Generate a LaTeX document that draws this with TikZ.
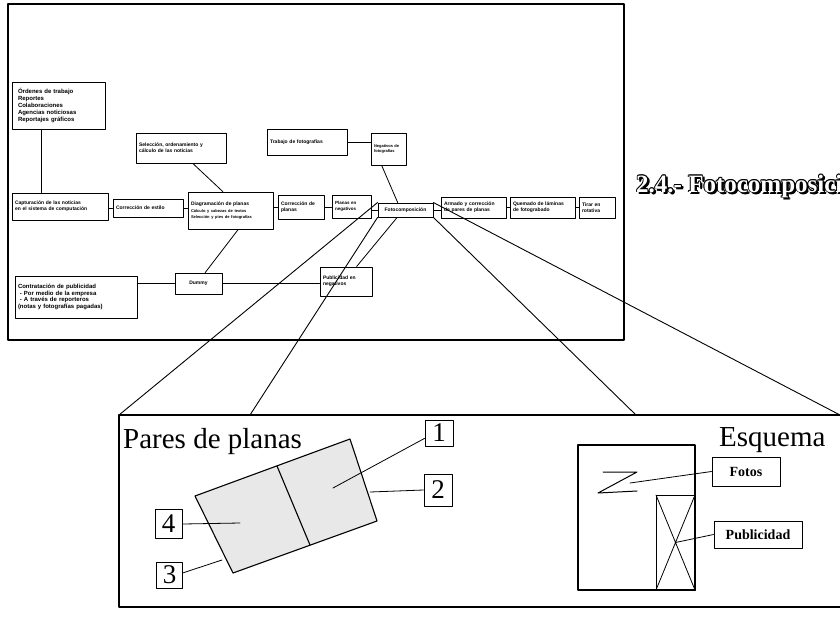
\documentclass[tikz,border=0pt]{standalone}
\usepackage{fontspec}
\setmainfont{Liberation Serif}
\newfontfamily\boxfont{Liberation Sans}
\usetikzlibrary{calc}
\begin{document}
\begin{tikzpicture}[x=1pt,y=-1pt,line cap=round,line join=round,
  bx/.style={draw,line width=0.9pt,inner xsep=3pt,inner ysep=1pt,align=left,
     font=\boxfont\bfseries\fontsize{5}{6}\selectfont},
  ln/.style={line width=0.8pt},
  frm/.style={line width=1.2pt},
  zl/.style={line width=0.9pt},
  numbox/.style={draw,line width=1pt,inner sep=0pt,font=\fontsize{27}{27}\selectfont},
  lab/.style={draw,line width=1pt,inner sep=0pt,font=\bfseries\fontsize{14}{14}\selectfont},
  ttl/.style={anchor=base west,inner sep=0pt,font=\bfseries\fontsize{25}{25}\selectfont}]
\useasboundingbox (0,0) rectangle (840,616);

% ---------- upper frame ----------
\draw[frm] (8,4) rectangle (624,340);

% ---------- boxes ----------
\node[bx,inner xsep=6pt,text width=81,minimum height=47,font=\boxfont\bfseries\fontsize{6}{7}\selectfont] (ord) at (58.5,105.5)
  {Órdenes de trabajo\\Reportes\\Colaboraciones\\Agencias noticiosas\\Reportajes gráficos};
\node[bx,text width=90,minimum height=27] (cap) at (60,206.5)
  {Capturación de las noticias\\en el sistema de computación};
\node[bx,text width=64,minimum height=18] (ces) at (148,208) {Corrección de estilo};
\node[bx,text width=84,minimum height=30] (sel) at (181,148)
  {Selección, ordenamiento y\\cálculo de las noticias};
\node[bx,text width=79,minimum height=37] (dia) at (230.5,210.5)
  {Diagramación de planas\\[2pt]\fontsize{4}{5}\selectfont Cálculo y cabezas de textos\\Selección y pies de fotografías};
\node[bx,text width=40,minimum height=24] (cpl) at (301,207) {Corrección de\\planas};
\node[bx,text width=33,minimum height=23,font=\boxfont\bfseries\fontsize{4.5}{5.5}\selectfont] (pne) at (351.5,206.5) {Planas en\\negativos};
\node[bx,text width=74,minimum height=26] (tra) at (307,142) {Trabajo de fotografías};
\node[bx,text width=29,minimum height=32,font=\boxfont\bfseries\fontsize{4}{5}\selectfont] (neg) at (388.5,149) {Negativos de\\fotografías};
\node[bx,text width=49,minimum height=14,align=center] (fot) at (405.5,210) {Fotocomposición};
\node[bx,text width=59,minimum height=21] (arm) at (473.5,207.5) {Armado y corrección\\de pares de planas};
\node[bx,text width=59,minimum height=21] (que) at (542.5,207.5) {Quemado de láminas\\de fotograbado};
\node[bx,text width=30,minimum height=21] (tir) at (597,207.5) {Tirar en\\rotativa};
\node[bx,text width=116,minimum height=42,font=\boxfont\bfseries\fontsize{6}{6.5}\selectfont] (con) at (76,297)
  {Contratación de publicidad\\\ - Por medio de la empresa\\\ - A través de reporteros\\(notas y fotografías pagadas)};
\node[bx,text width=41,minimum height=21,align=center] (dum) at (198.5,283.5) {Dummy};
\node[bx,text width=46,minimum height=29] (pub) at (346,281.5) {Publicidad en\\negativos};

% ---------- connectors ----------
\draw[ln] ($(ord.south west)!0.32!(ord.south east)$) coordinate (oa) -- (oa |- cap.north);
\draw[ln] (cap.east |- ces) -- (ces.west);
\draw[ln] (ces.east) -- (dia.west |- ces);
\draw[ln] ($(sel.south west)!0.63!(sel.south east)$) -- ($(dia.north west)!0.41!(dia.north east)$);
\draw[ln] (dia.east |- cpl) -- (cpl.west);
\draw[ln] (cpl.east) -- (pne.west |- cpl);
\draw[ln] (pne.east |- fot) -- (fot.west);
\draw[ln] (fot.east) -- (arm.west |- fot);
\draw[ln] (arm.east) -- (que.west);
\draw[ln] (que.east) -- (tir.west);
\draw[ln] (tra.east) -- (neg.west |- tra);
\draw[ln] ($(neg.south west)!0.31!(neg.south east)$) -- ($(fot.north west)!0.36!(fot.north east)$);
\draw[ln] ($(dia.south west)!0.59!(dia.south east)$) -- ($(dum.north west)!0.64!(dum.north east)$);
\draw[ln] (con.east |- dum) -- (dum.west);
\draw[ln] (dum.east) -- (pub.west |- dum);
\draw[ln] ($(fot.south west)!0.35!(fot.south east)$) -- ($(pub.north west)!0.7!(pub.north east)$);

% ---------- inset ----------
\coordinate (itl) at (119,415);
\coordinate (ibl) at (119,607);
\coordinate (itr) at (840,415);
\coordinate (ibr) at (840,607);
\coordinate (i2) at (250,415);
\coordinate (i3) at (636,415);
\draw[frm] (itr) -- (itl) -- (ibl) -- (ibr);
\draw[zl] (fot.north west) -- (itl);
\draw[zl] (fot.south west) -- (i2);
\draw[zl] (fot.south east) -- (i3);
\draw[zl] (fot.north east) -- (itr);

% pares de planas
\node[anchor=base west,inner sep=0pt,font=\fontsize{29}{29}\selectfont] (pares) at (123,448) {Pares de planas};
\coordinate (p1) at (195,496);
\coordinate (p2) at (350,439);
\coordinate (p3) at (377,521);
\coordinate (p4) at (233,573);
\draw[line width=1.1pt,fill=black!9] (p1) -- (p2) -- (p3) -- (p4) -- cycle;
\draw[line width=1.1pt] (277,466) coordinate (d1) -- (310,545) coordinate (d2);
\node[numbox,minimum width=28,minimum height=26] (n1) at (439,433) {1};
\node[numbox,minimum width=28,minimum height=32] (n2) at (438,490) {2};
\node[numbox,minimum width=27,minimum height=29] (n4) at (168.5,524) {4};
\node[numbox,minimum width=26,minimum height=26] (n3) at (169.5,575) {3};
\coordinate (e1) at (333,488);
\coordinate (e2) at (370,492);
\coordinate (e4) at (240,523);
\coordinate (e3) at (222,560);
\draw[ln] ($(n1.north west)!0.7!(n1.south west)$) -- (e1);
\draw[ln] (n2.west) -- (e2);
\draw[ln] (n4.east) -- (e4);
\draw[ln] ($(n3.north east)!0.42!(n3.south east)$) -- (e3);

% esquema
\node[anchor=base west,inner sep=0pt,font=\fontsize{29}{29}\selectfont] (esq) at (719,446) {Esquema};
\draw[line width=1.1pt] (578,445) rectangle (695,590);
\draw[line width=1pt] (656,495) rectangle (695,590);
\draw[line width=0.8pt] (656,495) -- (695,590) (656,590) -- (695,495);
\coordinate (xc) at (675.5,542.5);
\draw[line width=1pt] (603,472) -- (637,472) -- (598,493) -- (637,491);
\coordinate (zc) at (630,483);
\node[lab,minimum width=68,minimum height=29] (fotos) at (746,471.5) {Fotos};
\node[lab,minimum width=88,minimum height=27] (publ) at (758,534.5) {Publicidad};
\draw[ln] (fotos.west) -- (zc);
\draw[ln] (publ.west) -- (xc);

% ---------- title (outlined lettering) ----------
\foreach \dx/\dy [count=\i] in {2.2/2.2,1.6/2.4,2.4/1.6,-0.9/0,0.9/0,0/-0.9,0/0.9,-0.7/-0.7,0.7/-0.7,-0.7/0.7,0.7/0.7}
  \node[ttl,text=black] (ts\i) at (636+\dx,192+\dy) {2.4.- Fotocomposición};
\node[ttl,text=white] (title) at (636,192) {2.4.- Fotocomposición};
\end{tikzpicture}
\end{document}
